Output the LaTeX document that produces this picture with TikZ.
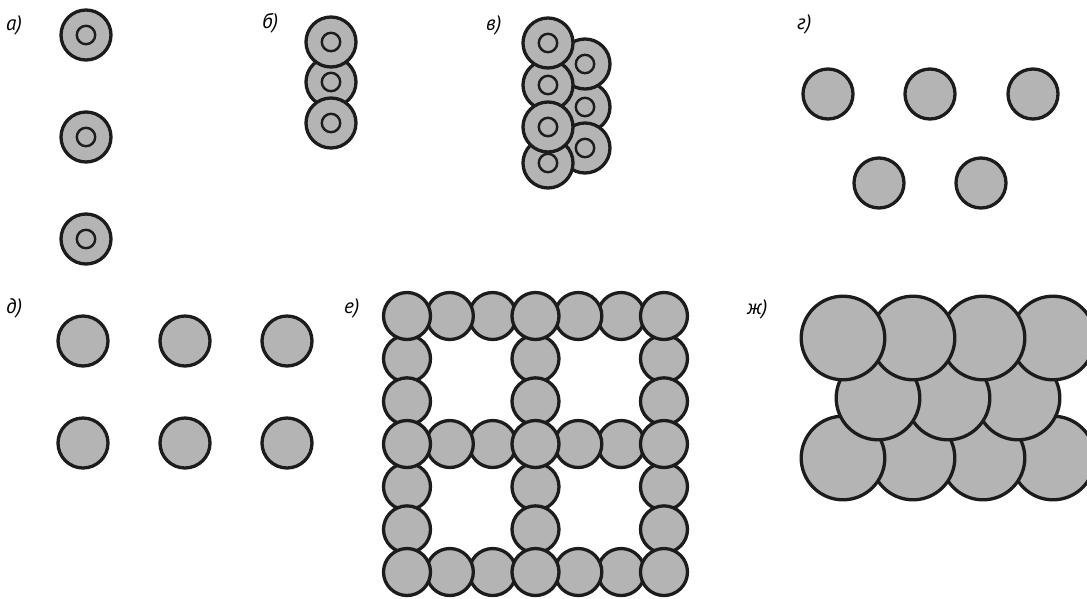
\documentclass[tikz,border=0pt]{standalone}
\usepackage{fontspec}
\setmainfont{PT Sans}
\definecolor{discfill}{RGB}{180,180,180}
\definecolor{discline}{RGB}{28,28,28}
\tikzset{
  disc/.style={fill=discfill,draw=discline,line width=3.3pt},
  hole/.style={draw=discline,line width=2.4pt},
  panellabel/.style={anchor=west,inner sep=0pt,font=\fontsize{21}{25}\selectfont\itshape}
}
\newcommand\ringdisc[2]{%
  \draw[disc] (#1,#2) circle[radius=25pt];
  \draw[hole] (#1,#2) circle[radius=9.2pt];}
\newcommand\plaindisc[2]{\draw[disc] (#1,#2) circle[radius=25pt];}
\newcommand\griddisc[2]{\draw[disc] (#1,#2) circle[radius=23.5pt];}
\newcommand\bigdisc[2]{\draw[disc] (#1,#2) circle[radius=41.8pt];}
\begin{document}
\begin{tikzpicture}[x=1pt,y=-1pt]
\useasboundingbox (0,0) rectangle (1087,598);
\clip (0,0) rectangle (1087,598);
% labels
\node[panellabel] (la) at (6,25) {а)};
\node[panellabel] (lb) at (262,23) {б)};
\node[panellabel] (lv) at (486,25) {в)};
\node[panellabel] (lg) at (797,24) {г)};
\node[panellabel] (ld) at (6,308) {д)};
\node[panellabel] (le) at (344,308) {е)};
\node[panellabel] (lzh) at (747,309) {ж)};
% a
\ringdisc{86}{35}
\ringdisc{86}{137}
\ringdisc{86}{239}
% b
\ringdisc{331}{82}
\ringdisc{331}{42}
\ringdisc{331}{123}
% v
\ringdisc{585}{107}
\ringdisc{585}{64}
\ringdisc{585}{148}
\ringdisc{548}{85}
\ringdisc{548}{163}
\ringdisc{548}{43}
\ringdisc{548}{127}
% g
\plaindisc{828}{94}
\plaindisc{930}{94}
\plaindisc{1033}{94}
\plaindisc{879}{183}
\plaindisc{981}{183}
% d
\foreach \x in {83,185,287}{
  \plaindisc{\x}{341}
  \plaindisc{\x}{443}}
% e : column discs first, then rows
\foreach \c in {0,3,6}{
  \foreach \r in {1,2,4,5}{
    \griddisc{407+42.83*\c}{316+42.67*\r}}}
\foreach \r in {0,3,6}{
  \foreach \c in {2,5,1,4}{
    \griddisc{407+42.83*\c}{316+42.67*\r}}
  \foreach \c in {0,3,6}{
    \griddisc{407+42.83*\c}{316+42.67*\r}}}
% zh
\foreach \x in {1053,983,913,843}{\bigdisc{\x}{458}}
\foreach \x in {1018,948,878}{\bigdisc{\x}{398}}
\foreach \x in {1053,983,913,843}{\bigdisc{\x}{338}}
\end{tikzpicture}
\end{document}
